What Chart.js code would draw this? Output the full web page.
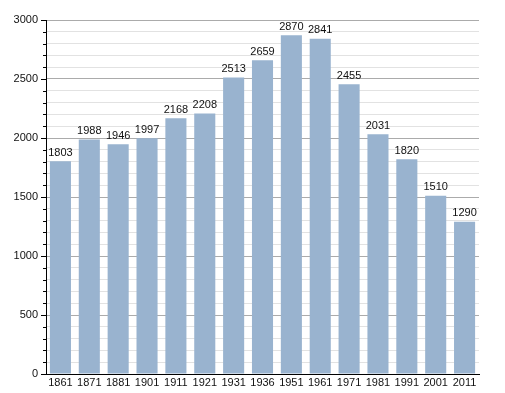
<!DOCTYPE html>
<html>
<head>
<meta charset="utf-8">
<script src="https://cdn.jsdelivr.net/npm/chart.js@4/dist/chart.umd.min.js"></script>
<style>
  html, body { margin: 0; padding: 0; background: #fff; }
  #wrap { position: relative; width: 505px; height: 393px; }
</style>
</head>
<body>
<div id="wrap"><canvas id="popChart"></canvas></div>
<script>
const years = ['1861', '1871', '1881', '1901', '1911', '1921', '1931', '1936', '1951', '1961', '1971', '1981', '1991', '2001', '2011'];
const population = [1803, 1988, 1946, 1997, 2168, 2208, 2513, 2659, 2870, 2841, 2455, 2031, 1820, 1510, 1290];
const yMax = 3000;
const yStep = 100;
const yLabelStep = 500;

// value labels above bars
const barLabels = {
  id: 'barLabels',
  afterDatasetsDraw(chart) {
    const ctx = chart.ctx;
    const meta = chart.getDatasetMeta(0);
    ctx.save();
    ctx.font = '11px "Liberation Sans", Arial, sans-serif';
    ctx.fillStyle = '#111';
    ctx.textAlign = 'center';
    ctx.textBaseline = 'bottom';
    meta.data.forEach((bar, i) => {
      ctx.fillText(population[i], bar.x, bar.y - 3);
    });
    ctx.restore();
  }
};

// y tick marks: long at labelled steps, short in between
const yTickMarks = {
  id: 'yTickMarks',
  afterDraw(chart) {
    const ctx = chart.ctx;
    const y = chart.scales.y;
    const left = chart.chartArea.left;
    ctx.save();
    ctx.strokeStyle = '#000';
    ctx.lineWidth = 1;
    y.ticks.forEach(t => {
      const py = Math.round(y.getPixelForValue(t.value)) + 0.5;
      const len = t.value % yLabelStep === 0 ? 5 : 3;
      ctx.beginPath();
      ctx.moveTo(left - len, py);
      ctx.lineTo(left, py);
      ctx.stroke();
    });
    ctx.restore();
  }
};

Chart.defaults.font.family = '"Liberation Sans", Arial, sans-serif';
Chart.defaults.font.size = 11;
Chart.defaults.color = '#111';

new Chart(document.getElementById('popChart'), {
  type: 'bar',
  data: {
    labels: years,
    datasets: [{
      data: population,
      backgroundColor: '#99b3cf',
      borderWidth: 0,
      barPercentage: 0.73,
      categoryPercentage: 1
    }]
  },
  options: {
    responsive: true,
    maintainAspectRatio: false,
    animation: false,
    layout: { padding: { top: 20, right: 26, left: 0, bottom: 0 } },
    plugins: {
      legend: { display: false },
      tooltip: { enabled: false }
    },
    scales: {
      x: {
        offset: true,
        grid: { display: false, drawTicks: false, tickLength: 0 },
        border: { display: true, color: '#000', width: 1 },
        ticks: { padding: 2, maxRotation: 0, autoSkip: false, color: '#111' },
        afterFit(scale) { scale.height = 19; }
      },
      y: {
        min: 0,
        max: yMax,
        border: { display: true, color: '#000', width: 1 },
        grid: {
          color: ctx => (ctx.tick && ctx.tick.value % yLabelStep === 0) ? '#ababab' : '#e2e2e2',
          drawTicks: false
        },
        ticks: {
          stepSize: yStep,
          padding: 8,
          autoSkip: false,
          color: '#111',
          callback: v => (v % yLabelStep === 0 ? v : '')
        },
        afterFit(scale) { scale.width = 46; }
      }
    }
  },
  plugins: [barLabels, yTickMarks]
});
</script>
</body>
</html>
